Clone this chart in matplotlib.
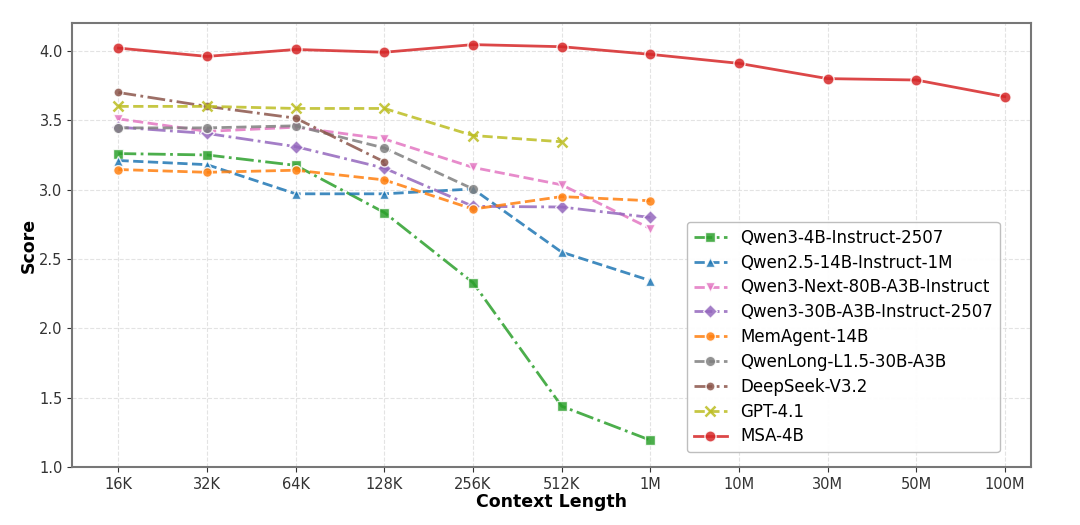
import numpy as np
import matplotlib
matplotlib.use("Agg")
import matplotlib.pyplot as plt

contextLengths = ["16K", "32K", "64K", "128K", "256K", "512K", "1M", "10M", "30M", "50M", "100M"]

qwen3_4b = [3.26, 3.25, 3.175, 2.835, 2.33, 1.44, 1.195]
qwen25_14b = [3.21, 3.18, 2.97, 2.97, 3.005, 2.55, 2.345]
qwen3_next = [3.51, 3.42, 3.45, 3.365, 3.16, 3.035, 2.72]
qwen3_30b = [3.45, 3.405, 3.31, 3.155, 2.88, 2.875, 2.80]
memAgent = [3.145, 3.125, 3.14, 3.07, 2.86, 2.95, 2.92]
qwenLong = [3.445, 3.445, 3.46, 3.30, 3.005]
deepSeek = [3.70, 3.60, 3.515, 3.20]
gpt41 = [3.60, 3.60, 3.585, 3.585, 3.39, 3.345]
msa4b = [4.02, 3.96, 4.01, 3.99, 4.045, 4.03, 3.975, 3.91, 3.80, 3.79, 3.67]

seriesList = [
    ("Qwen3-4B-Instruct-2507", qwen3_4b, "tab:green", "s", "-.", 7),
    ("Qwen2.5-14B-Instruct-1M", qwen25_14b, "tab:blue", "^", "--", 7),
    ("Qwen3-Next-80B-A3B-Instruct", qwen3_next, "tab:pink", "v", "--", 7),
    ("Qwen3-30B-A3B-Instruct-2507", qwen3_30b, "tab:purple", "D", "-.", 7),
    ("MemAgent-14B", memAgent, "tab:orange", "o", "--", 7),
    ("QwenLong-L1.5-30B-A3B", qwenLong, "tab:gray", "o", "--", 7.5),
    ("DeepSeek-V3.2", deepSeek, "tab:brown", "o", "-.", 6.5),
    ("GPT-4.1", gpt41, "tab:olive", "x", "--", 7),
    ("MSA-4B", msa4b, "tab:red", "o", "-", 8),
]

fig = plt.figure(figsize=(10.8, 5.25), dpi=100)
ax = fig.add_axes([0.067, 0.11, 0.888, 0.846])

for name, values, color, marker, style, msize in seriesList:
    xs = np.arange(len(values))
    ax.plot(xs, values, linestyle=style, marker=marker, color=color, label=name,
            linewidth=2, markersize=msize, markeredgecolor="white" if marker != "x" else color,
            markeredgewidth=1 if marker != "x" else 1.8, alpha=0.85)

ax.set_xticks(np.arange(len(contextLengths)))
ax.set_xticklabels(contextLengths)
ax.set_xlim(-0.52, 10.3)
ax.set_ylim(1.0, 4.2)
ax.set_yticks([1.0, 1.5, 2.0, 2.5, 3.0, 3.5, 4.0])
ax.tick_params(labelsize=10.5, colors="#333333")
ax.grid(True, linestyle="--", color="#dddddd", linewidth=0.8, alpha=0.8)
for spine in ax.spines.values():
    spine.set_color("#777777")
    spine.set_linewidth(1.5)

ax.set_xlabel("Context Length", fontsize=12.5, fontweight="bold", labelpad=1)
ax.set_ylabel("Score", fontsize=12.5, fontweight="bold", labelpad=1)

ax.legend(loc="lower right", bbox_to_anchor=(0.967, 0.034), borderaxespad=0, fontsize=12,
          frameon=True, framealpha=0.95, edgecolor="#bbbbbb", handlelength=2.0,
          labelspacing=0.41)

fig.savefig("out.png", dpi=100)
